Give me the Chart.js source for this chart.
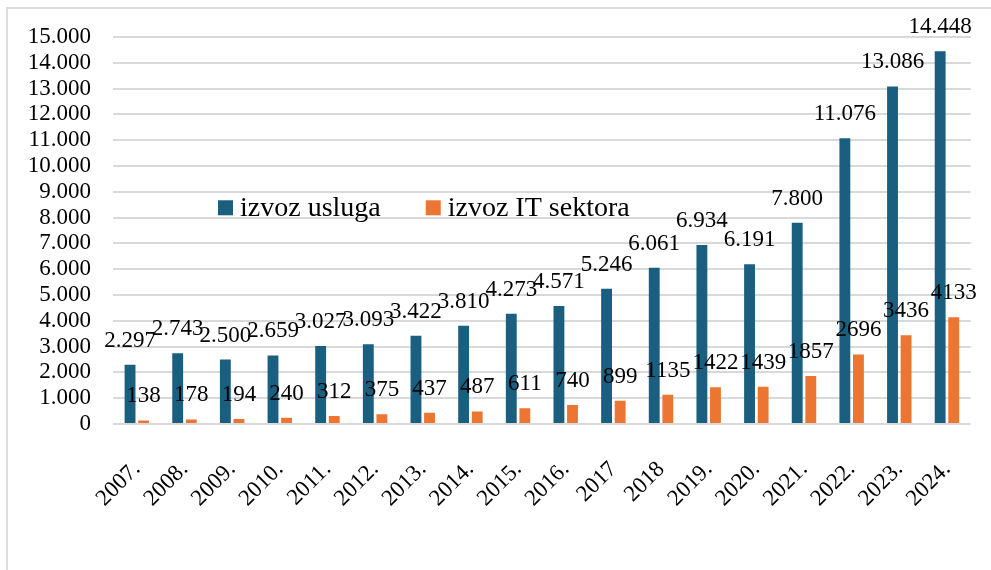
<!DOCTYPE html>
<html>
<head>
<meta charset="utf-8">
<script src="https://cdn.jsdelivr.net/npm/chart.js@4.4.1/dist/chart.umd.min.js"></script>
<style>
    html, body { margin: 0; padding: 0; background: #fff; }
    #frame { position: absolute; left: 6px; top: 7px; width: 1000px; height: 600px; border-left: 2px solid #dcdcdc; border-top: 2px solid #dcdcdc; }
    #myChart { position: absolute; left: 0; top: 0; }
</style>
</head>
<body>
<div id="frame"></div>
<canvas id="myChart" width="991" height="570"></canvas>
<script>
var years = ['2007.', '2008.', '2009.', '2010.', '2011.', '2012.', '2013.', '2014.', '2015.', '2016.',
    '2017', '2018', '2019.', '2020.', '2021.', '2022.', '2023.', '2024.'];
var izvozUsluga = [2297, 2743, 2500, 2659, 3027, 3093, 3422, 3810, 4273, 4571,
    5246, 6061, 6934, 6191, 7800, 11076, 13086, 14448];
var izvozIT = [138, 178, 194, 240, 312, 375, 437, 487, 611, 740,
    899, 1135, 1422, 1439, 1857, 2696, 3436, 4133];
var yMax = 15000;
var yStep = 1000;

var serif = '"Liberation Serif", "Times New Roman", serif';

// thousands with a dot, like 14.448
function dots(n) {
    return String(n).replace(/\B(?=(\d{3})+(?!\d))/g, '.');
}

var barLabels = {
    id: 'barLabels',
    afterDatasetsDraw: function (chart) {
        var ctx = chart.ctx;
        ctx.save();
        ctx.font = '23px ' + serif;
        ctx.fillStyle = '#000';
        ctx.textAlign = 'center';
        ctx.textBaseline = 'middle';
        chart.data.datasets.forEach(function (ds, i) {
            chart.getDatasetMeta(i).data.forEach(function (bar, j) {
                ctx.fillText(ds.valueText[j], bar.x, bar.y - 24);
            });
        });
        ctx.restore();
    }
};

// legend sits inside the plot, between the 8.000 and 9.000 lines
var innerLegend = {
    id: 'innerLegend',
    afterDraw: function (chart) {
        var ctx = chart.ctx;
        var y = chart.scales.y.getPixelForValue(8400);
        var x = chart.chartArea.left + 105;
        ctx.save();
        ctx.font = '28px ' + serif;
        ctx.textBaseline = 'middle';
        ctx.textAlign = 'left';
        chart.data.datasets.forEach(function (ds, i) {
            ctx.fillStyle = ds.backgroundColor;
            ctx.fillRect(x, y - 7, 15, 15);
            ctx.fillStyle = '#000';
            ctx.fillText(ds.label, x + 22, y + 1);
            x += 22 + ctx.measureText(ds.label).width + 45;
        });
        ctx.restore();
    }
};

var ctx = document.getElementById('myChart').getContext('2d');
var chart = new Chart(ctx, {
    type: 'bar',
    data: {
        labels: years,
        datasets: [{
            label: 'izvoz usluga',
            backgroundColor: '#1a5e80',
            data: izvozUsluga,
            valueText: izvozUsluga.map(dots)
        }, {
            label: 'izvoz IT sektora',
            backgroundColor: '#ed7532',
            data: izvozIT,
            valueText: izvozIT.map(String)
        }]
    },
    options: {
        responsive: false,
        animation: false,
        categoryPercentage: 0.57,
        barPercentage: 0.8,
        layout: { padding: { left: 0, right: 19, top: 37, bottom: 0 } },
        plugins: {
            legend: { display: false },
            tooltip: { enabled: false }
        },
        scales: {
            x: {
                grid: { display: false },
                border: { display: false },
                ticks: {
                    color: '#000',
                    font: { family: serif, size: 23 },
                    minRotation: 45,
                    maxRotation: 45,
                    autoSkip: false,
                    padding: 24
                },
                afterFit: function (scale) { scale.height = 146; }
            },
            y: {
                min: 0,
                max: yMax,
                grid: { color: '#d9d9d9', lineWidth: 2, drawTicks: false },
                border: { display: false },
                ticks: {
                    stepSize: yStep,
                    autoSkip: false,
                    color: '#000',
                    padding: 22,
                    font: { family: serif, size: 23 },
                    callback: function (v) { return dots(v); }
                },
                afterFit: function (scale) { scale.width = 113; }
            }
        }
    },
    plugins: [barLabels, innerLegend]
});
</script>
</body>
</html>
